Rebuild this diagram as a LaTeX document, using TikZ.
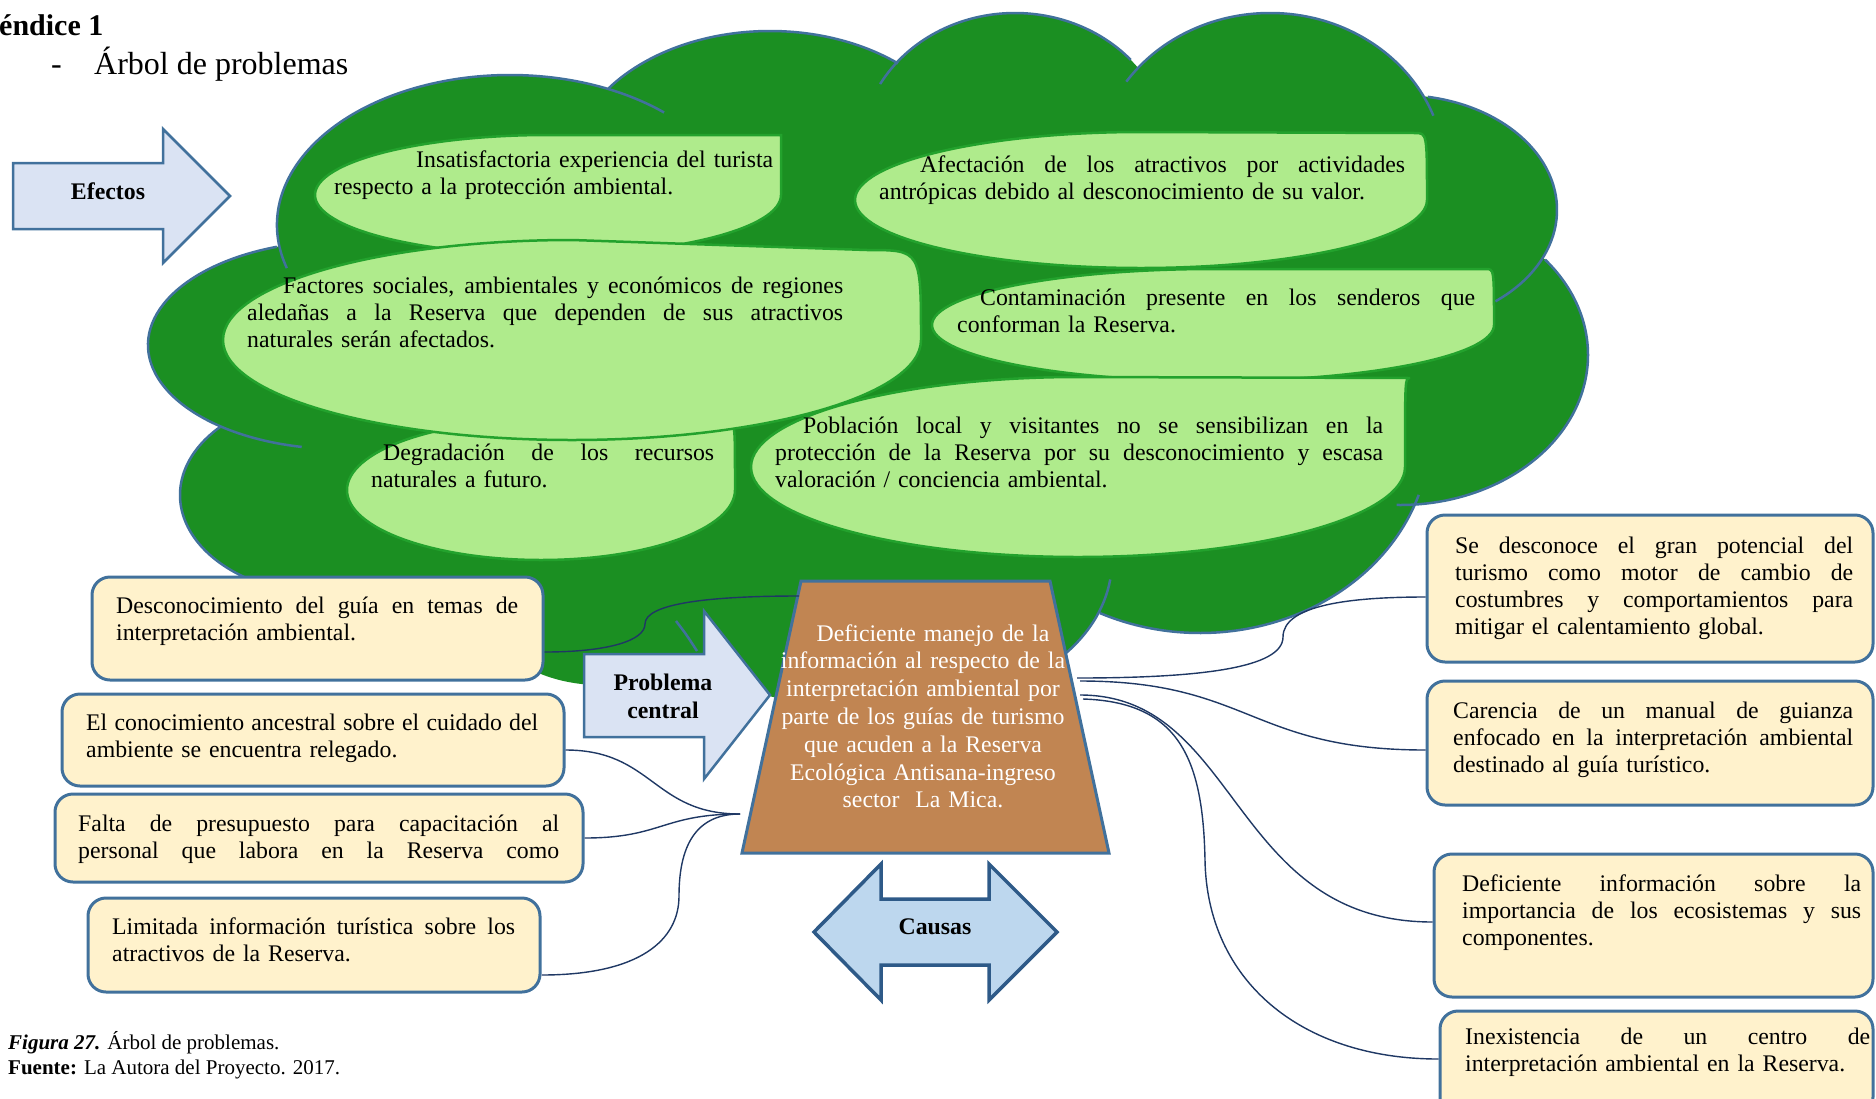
\documentclass[tikz,border=0pt]{standalone}
\usepackage{fontspec}
\setmainfont{Liberation Serif}
\usetikzlibrary{calc}

\definecolor{crown}{HTML}{1B8F22}
\definecolor{leaf}{HTML}{AFEB8C}
\definecolor{leafedge}{HTML}{23A22D}
\definecolor{rim}{HTML}{41719C}
\definecolor{cream}{HTML}{FFF2CC}
\definecolor{paleblue}{HTML}{DAE3F3}
\definecolor{skyblue}{HTML}{BDD7EE}
\definecolor{deepblue}{HTML}{2E5A88}
\definecolor{bark}{HTML}{C18552}
\definecolor{navy}{HTML}{1F3864}

\tikzset{
  lobe/.style={fill=crown},
  lobeline/.style={draw=rim, line width=2.5pt},
  leafshape/.style={fill=leaf, draw=leafedge, line width=2.5pt},
  leaftext/.style={anchor=base west, inner sep=0pt, font=\fontsize{23.8}{27.4}\selectfont},
  causebox/.style={draw=rim, fill=cream, line width=3pt, rounded corners=18pt},
  boxtext/.style={anchor=base west, inner sep=0pt, font=\fontsize{23.8}{27.2}\selectfont},
  sign/.style={draw=rim, fill=paleblue, line width=2.5pt},
  signtext/.style={anchor=base, inner sep=0pt, align=center, font=\bfseries\fontsize{23.8}{28}\selectfont},
  trunk/.style={draw=rim, fill=bark, line width=3pt},
  link/.style={draw=navy, line width=1.4pt},
}

\newcommand{\jl}[2]{\makebox[#1pt][s]{\spaceskip=0.25em plus 1fil\relax#2}}
\newcommand{\lobearc}[6]{\draw[lobeline] ([shift={(#5:#3 and #4)}]#1,-#2) arc[start angle=#5, end angle=#6, x radius=#3, y radius=#4];}
\newcommand{\leafdrop}[6]{\draw[leafshape] (#1-#3,-#2) arc[start angle=180, end angle=90, x radius=#3, y radius=#4] -- (#5,-#6) .. controls (#1+#3,-#6) .. (#1+#3,-#2) arc[start angle=0, end angle=-180, x radius=#3, y radius=#4] -- cycle;}

\begin{document}
\begin{tikzpicture}[x=1pt, y=1pt]
\useasboundingbox (0,0) rectangle (1876,-1098);

\node[anchor=base west, inner sep=0pt, font=\bfseries\fontsize{30}{34}\selectfont] (apx) at (-1,-35) {éndice 1};
\node[anchor=base west, inner sep=0pt, font=\fontsize{32}{36}\selectfont] (dash) at (51,-74) {-};
\node[anchor=base west, inner sep=0pt, font=\fontsize{32}{36}\selectfont] (title) at (94,-74) {Árbol de problemas};

% copa del arbol
\foreach \cx/\cy/\rx/\ry in {510/225/233/150, 770/171/200/140, 1015/153/155/140, 1270/173/175/160,
    1400/210/157/115, 1400/355/188/150, 1200/433/230/200, 930/560/182/140, 680/500/290/190,
    600/600/120/85, 800/600/110/100, 340/345/192/104, 330/495/150/100, 950/330/300/200}
  \fill[lobe] (\cx,-\cy) ellipse[x radius=\rx, y radius=\ry];

\lobearc{510}{225}{233}{150}{196.7}{48.6}
\lobearc{770}{171}{200}{140}{143.9}{50.2}
\lobearc{1015}{153}{155}{140}{150.5}{41.7}
\lobearc{1270}{173}{175}{160}{145.2}{21}
\lobearc{1400}{210}{157}{115}{79.8}{-52.6}
\lobearc{1400}{355}{188}{150}{39.5}{-91}
\lobearc{1200}{433}{230}{200}{-18}{-115.8}
\lobearc{930}{560}{182}{140}{-8}{-45}
\lobearc{340}{345}{192}{104}{109.2}{258.5}
\lobearc{330}{495}{150}{100}{137}{250}
\draw[lobeline] (676,-621) .. controls (686,-634) .. (697,-651);

% efectos
\leafdrop{548}{195}{233}{60}{781}{135}
\leafdrop{1141}{200}{286}{68}{1415}{133}
\leafdrop{1213}{325}{281}{56}{1486}{269}
\leafdrop{541}{490}{194}{70}{730}{425}
\leafdrop{1078}{467}{327}{90}{1410}{378}
\leafdrop{572}{340}{349}{100}{867}{250}

\node[leaftext, text width=439pt] (ef1) at (334,-167)
  {\hspace*{82pt}\jl{357}{Insatisfactoria experiencia del turista}\\respecto a la protección ambiental.};
\node[leaftext, text width=526pt] (ef2) at (879,-172)
  {\hspace*{41pt}\jl{485}{Afectación de los atractivos por actividades}\\antrópicas debido al desconocimiento de su valor.};
\node[leaftext, text width=596pt] (ef3) at (247,-293)
  {\hspace*{36pt}\jl{560}{Factores sociales, ambientales y económicos de regiones}\\\jl{596}{aledañas a la Reserva que dependen de sus atractivos}\\naturales serán afectados.};
\node[leaftext, text width=518pt] (ef4) at (957,-305)
  {\hspace*{23pt}\jl{495}{Contaminación presente en los senderos que}\\conforman la Reserva.};
\node[leaftext, text width=343pt] (ef5) at (371,-460)
  {\hspace*{12pt}\jl{331}{Degradación de los recursos}\\naturales a futuro.};
\node[leaftext, text width=608pt] (ef6) at (775,-433)
  {\hspace*{28pt}\jl{580}{Población local y visitantes no se sensibilizan en la}\\\jl{608}{protección de la Reserva por su desconocimiento y escasa}\\valoración / conciencia ambiental.};

% tronco
\draw[trunk] (742,-853) -- (801,-581) -- (1050,-581) -- (1109,-853) -- cycle;
\node[anchor=base, inner sep=0pt, text width=320pt, align=center, text=white, font=\fontsize{23.8}{27.8}\selectfont] (central) at (923,-641)
  {\hspace*{20pt}Deficiente manejo de la\\información al respecto de la\\interpretación ambiental por\\parte de los guías de turismo\\que acuden a la Reserva\\Ecológica Antisana-ingreso\\sector\ \ La Mica.};

\draw[sign] (13,-163) -- (163,-163) -- (163,-129) -- (230,-196) -- (163,-263) -- (163,-229) -- (13,-229) -- cycle;
\node[signtext] (efectos) at (108,-199) {Efectos};
\draw[sign] (584,-654) -- (704,-654) -- (704,-611) -- (770,-695) -- (704,-779) -- (704,-737) -- (584,-737) -- cycle;
\node[signtext, text width=150pt] (problema) at (663,-690) {Problema\\central};
\draw[draw=deepblue, fill=skyblue, line width=3.5pt] (814,-932) -- (881,-864) -- (881,-899) -- (989,-899) -- (989,-864)
  -- (1057,-932) -- (989,-1000) -- (989,-965) -- (881,-965) -- (881,-1000) -- cycle;
\node[signtext] (causas) at (935,-934) {Causas};

% causas
\node[causebox, minimum width=451pt, minimum height=103pt] (c1) at (317.5,-628.5) {};
\node[causebox, minimum width=502pt, minimum height=92pt] (c2) at (313,-740) {};
\node[causebox, minimum width=528pt, minimum height=88pt] (c3) at (319,-838) {};
\node[causebox, minimum width=452pt, minimum height=94pt] (c4) at (314,-945) {};
\node[causebox, minimum width=446pt, minimum height=147pt] (r1) at (1650,-588.5) {};
\node[causebox, minimum width=446pt, minimum height=124pt] (r2) at (1650,-743) {};
\node[causebox, minimum width=439pt, minimum height=143pt] (r3) at (1653.5,-925.5) {};
\node[causebox, minimum width=433pt, minimum height=104pt] (r4) at (1656.5,-1063) {};

\node[boxtext, text width=402pt] (c1t) at (116,-613)
  {\jl{402}{Desconocimiento del guía en temas de}\\interpretación ambiental.};
\node[boxtext, text width=452pt] (c2t) at (86,-730)
  {\jl{452}{El conocimiento ancestral sobre el cuidado del}\\ambiente se encuentra relegado.};
\node[boxtext, text width=481pt] (c3t) at (78,-831)
  {\jl{481}{Falta de presupuesto para capacitación al}\\\jl{481}{personal que labora en la Reserva como}};
\node[boxtext, text width=403pt] (c4t) at (112,-934)
  {\jl{403}{Limitada información turística sobre los}\\atractivos de la Reserva.};
\node[boxtext, text width=398pt] (r1t) at (1455,-553)
  {\jl{398}{Se desconoce el gran potencial del}\\\jl{398}{turismo como motor de cambio de}\\\jl{398}{costumbres y comportamientos para}\\mitigar el calentamiento global.};
\node[boxtext, text width=400pt] (r2t) at (1453,-718)
  {\jl{400}{Carencia de un manual de guianza}\\\jl{400}{enfocado en la interpretación ambiental}\\destinado al guía turístico.};
\node[boxtext, text width=399pt] (r3t) at (1462,-891)
  {\jl{399}{Deficiente información sobre la}\\\jl{399}{importancia de los ecosistemas y sus}\\componentes.};
\node[boxtext, text width=405pt] (r4t) at (1465,-1044)
  {\jl{405}{Inexistencia de un centro de}\\interpretación ambiental en la Reserva.};

% conectores
\coordinate (ttop) at (799,-596);
\coordinate (tleft) at (740,-814);
\coordinate (tr1) at (1077,-678);
\coordinate (tr2) at (1080,-681);
\coordinate (tr3) at (1080,-695);
\coordinate (tr4) at (1083,-699);

\draw[link] ([yshift=-23.5pt]c1.east) .. controls (610,-652) and (645,-640) .. (645,-624) .. controls (645,-605) and (700,-596) .. (ttop);
\draw[link] ([yshift=-10pt]c2.east) .. controls (653,-750) and (653,-814) .. (tleft);
\draw[link] (c3.east) .. controls (662,-838) and (662,-814) .. (tleft);
\draw[link] ([yshift=-30pt]c4.east) .. controls (640,-975) and (679,-940) .. (679,-896) .. controls (679,-840) and (700,-814) .. (tleft);
\draw[link] ([yshift=-8.5pt]r1.west) .. controls (1350,-597) and (1283,-605) .. (1283,-637) .. controls (1283,-668) and (1200,-678) .. (tr1);
\draw[link] ([yshift=-7pt]r2.west) .. controls (1250,-750) and (1250,-681) .. (tr2);
\draw[link] ([yshift=3.5pt]r3.west) .. controls (1230,-922) and (1240,-695) .. (tr3);
\draw[link] ([yshift=4pt]r4.west) .. controls (1300,-1059) and (1207,-980) .. (1205,-860) .. controls (1203,-760) and (1180,-702) .. (tr4);

\node[anchor=base west, inner sep=0pt, font=\fontsize{21}{25}\selectfont] (fig) at (8,-1049) {\textbf{\textit{Figura 27.}} Árbol de problemas.};
\node[anchor=base west, inner sep=0pt, font=\fontsize{21}{25}\selectfont] (src) at (8,-1074) {\textbf{Fuente:} La Autora del Proyecto. 2017.};
\end{tikzpicture}
\end{document}
